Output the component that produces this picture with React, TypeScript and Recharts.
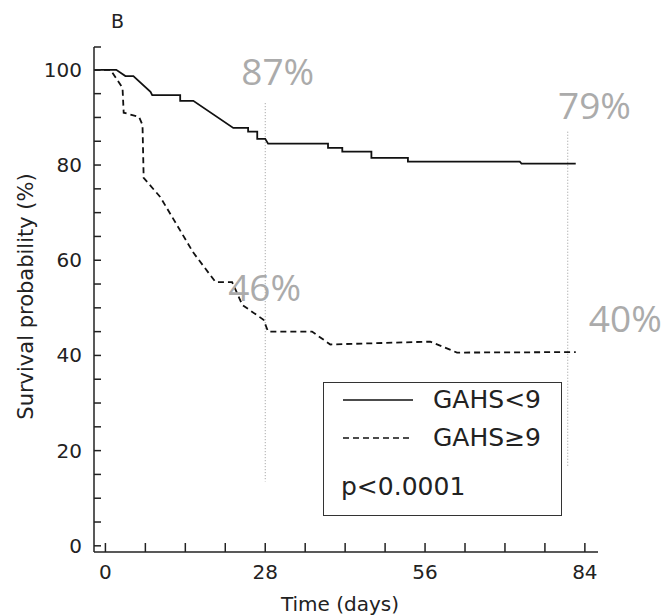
import React from "react";
import {
  Legend,
  Line,
  LineChart,
  ReferenceDot,
  ReferenceLine,
  XAxis,
  YAxis
} from "recharts";

// Kaplan-Meier curves (days, survival %)
const lowDays = [-2, 1.9, 3.5, 4.9, 7.9, 8.2, 13.1, 13.1, 15.4, 22.4, 25.0, 25.0, 26.6, 26.6, 28.0, 28.5, 39.0, 39.0, 41.5, 41.5, 46.6, 46.6, 53.0, 53.0, 72.6, 72.9, 82.4];
const lowSurv = [100, 100, 98.7, 98.7, 95.4, 94.7, 94.7, 93.5, 93.5, 87.8, 87.8, 87.0, 87.0, 85.5, 85.5, 84.5, 84.5, 83.6, 83.6, 82.8, 82.8, 81.5, 81.5, 80.7, 80.7, 80.3, 80.3];

const highDays = [-2, 0.9, 3.0, 3.2, 5.9, 6.5, 6.7, 9.6, 15.4, 19.3, 22.2, 24.0, 27.7, 28.5, 36.2, 39.4, 56.9, 61.6, 82.4];
const highSurv = [100, 100, 96.2, 91.0, 90.1, 88.4, 77.3, 73.3, 61.6, 55.4, 55.4, 50.6, 47.5, 45.0, 45.0, 42.3, 42.9, 40.6, 40.7];

const seriesNames = ["GAHS<9", "GAHS\u22659"];
const pValue = "p<0.0001";

const xTicks = [0, 7, 14, 21, 28, 35, 42, 49, 56, 63, 70, 77, 84];
const xLabels = [0, 28, 56, 84];
const yTicks = [0, 5, 10, 15, 20, 25, 30, 35, 40, 45, 50, 55, 60, 65, 70, 75, 80, 85, 90, 95, 100, 104.8];
const yLabels = [0, 20, 40, 60, 80, 100];

// percentages written on the figure and the day they refer to
const marks = [
  { text: "87%", day: 23.8, value: 96.8 },
  { text: "79%", day: 79.3, value: 89.7 },
  { text: "46%", day: 21.5, value: 51.5 },
  { text: "40%", day: 84.7, value: 45.0 }
];

const guideLines = [
  { day: 28, from: 93, to: 13.5 },
  { day: 81, from: 87, to: 16.6 }
];

const lowData = lowDays.map((d, i) => ({ day: d, surv: lowSurv[i] }));
const highData = highDays.map((d, i) => ({ day: d, surv: highSurv[i] }));

const FONT = "'DejaVu Sans', sans-serif";
const INK = "#222";
const TICK_MARGIN = 10;

const XTick = (props: any) => {
  const { x, y, payload } = props;
  const axisY = y - TICK_MARGIN;
  return (
    <g>
      <line x1={x} x2={x} y1={axisY} y2={axisY - 9} stroke={INK} strokeWidth={1.5} />
      {xLabels.includes(payload.value) && (
        <text x={x} y={axisY + 20} textAnchor="middle" dominantBaseline="central" fill={INK} fontSize={20} fontFamily={FONT}>
          {payload.value}
        </text>
      )}
    </g>
  );
};

const YTick = (props: any) => {
  const { x, y, payload } = props;
  const axisX = x + TICK_MARGIN;
  return (
    <g>
      <line x1={axisX} x2={axisX + 7} y1={y} y2={y} stroke={INK} strokeWidth={1.5} />
      {yLabels.includes(payload.value) && (
        <text x={axisX - 12} y={y} textAnchor="end" dominantBaseline="central" fill={INK} fontSize={20} fontFamily={FONT}>
          {payload.value}
        </text>
      )}
    </g>
  );
};

const LegendBox = () => (
  <div
    style={{
      position: "relative",
      width: 239,
      height: 134,
      border: "1.5px solid #333",
      boxSizing: "border-box",
      background: "#fff",
      fontFamily: FONT,
      fontSize: 25,
      color: INK
    }}
  >
    {seriesNames.map((name, i) => (
      <div key={name} style={{ position: "absolute", left: 19, top: i === 0 ? 2 : 40, height: 30, display: "flex", alignItems: "center" }}>
        <svg width={70} height={4} style={{ marginRight: 20 }}>
          <line x1={0} x2={70} y1={2} y2={2} stroke="#111" strokeWidth={1.6} strokeDasharray={i === 0 ? undefined : "6 4"} />
        </svg>
        <span style={{ lineHeight: "30px" }}>{name}</span>
      </div>
    ))}
    <div style={{ position: "absolute", left: 17, top: 89, lineHeight: "30px" }}>{pValue}</div>
  </div>
);

export default function App() {
  return (
    <div style={{ position: "absolute", left: 0, top: 0, width: 667, height: 616, background: "#fff" }}>
      <svg width={667} height={40} style={{ position: "absolute", left: 0, top: 0 }}>
        <text x={111} y={28} fontFamily={FONT} fontSize={19} fill={INK}>B</text>
      </svg>
      <LineChart width={667} height={616} margin={{ top: 47, right: 69, bottom: 0, left: 0 }}>
        <XAxis
          type="number"
          dataKey="day"
          domain={[-2, 86.3]}
          ticks={xTicks}
          interval={0}
          allowDataOverflow
          height={64}
          tickSize={0}
          tickMargin={TICK_MARGIN}
          tick={<XTick />}
          axisLine={{ stroke: INK, strokeWidth: 1.5 }}
          label={{
            content: (p: any) => (
              <text x={p.viewBox.x + p.viewBox.width / 2 - 6} y={p.viewBox.y + 52} textAnchor="middle" dominantBaseline="central" fontFamily={FONT} fontSize={20} fill={INK}>
                Time (days)
              </text>
            )
          }}
        />
        <YAxis
          type="number"
          domain={[-1.3, 104.8]}
          ticks={yTicks}
          interval={0}
          allowDataOverflow
          width={94}
          tickSize={0}
          tickMargin={TICK_MARGIN}
          tick={<YTick />}
          axisLine={{ stroke: INK, strokeWidth: 1.5 }}
          label={{
            content: (p: any) => {
              const cy = p.viewBox.y + p.viewBox.height / 2 - 3;
              return (
                <text x={26} y={cy} transform={`rotate(-90 26 ${cy})`} textAnchor="middle" dominantBaseline="central" fontFamily={FONT} fontSize={21} fill={INK}>
                  Survival probability (%)
                </text>
              );
            }
          }}
        />
        {guideLines.map((g) => (
          <ReferenceLine
            key={g.day}
            segment={[{ x: g.day, y: g.from }, { x: g.day, y: g.to }]}
            stroke="#999"
            strokeWidth={1}
            strokeDasharray="1 2"
          />
        ))}
        <Line
          data={lowData}
          dataKey="surv"
          name={seriesNames[0]}
          type="linear"
          stroke="#111"
          strokeWidth={1.8}
          dot={false}
          isAnimationActive={false}
        />
        <Line
          data={highData}
          dataKey="surv"
          name={seriesNames[1]}
          type="linear"
          stroke="#111"
          strokeWidth={1.8}
          strokeDasharray="6 4"
          dot={false}
          isAnimationActive={false}
        />
        {marks.map((m) => (
          <ReferenceDot
            key={m.text}
            x={m.day}
            y={m.value}
            r={0}
            ifOverflow="visible"
            shape={(p: any) => (
              <text x={p.cx} y={p.cy} fontFamily="'Open Sans', sans-serif" fontSize={37} fill="#ababab">
                {m.text}
              </text>
            )}
          />
        ))}
        <Legend
          layout="horizontal"
          verticalAlign="middle"
          align="center"
          content={() => <LegendBox />}
          wrapperStyle={{ left: 323, top: 382, width: 239, height: 134 }}
        />
      </LineChart>
    </div>
  );
}
